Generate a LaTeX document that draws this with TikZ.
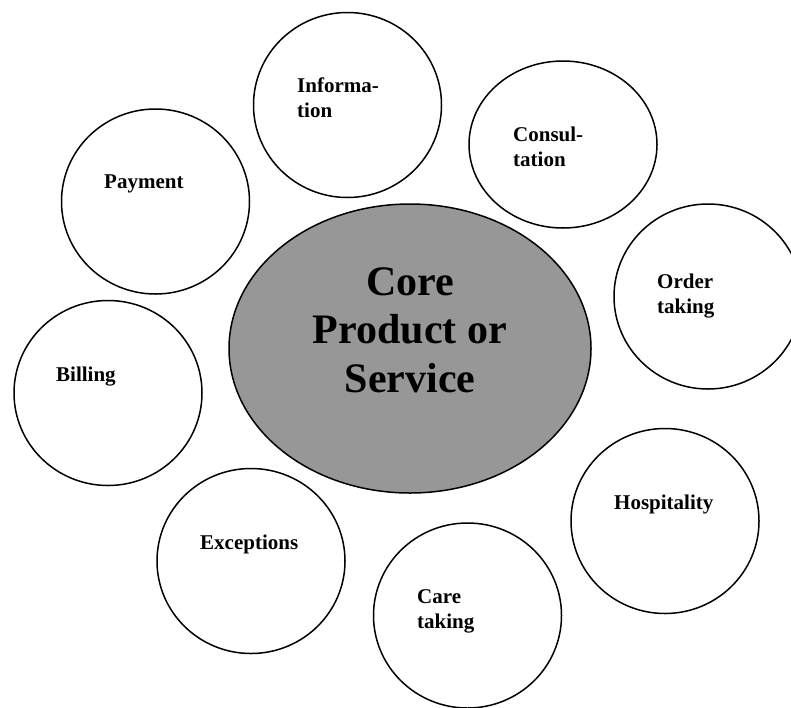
\documentclass[tikz,border=0pt]{standalone}
\usepackage{fontspec}
\setmainfont{Liberation Serif}
\usetikzlibrary{shapes.geometric}
\definecolor{coregray}{RGB}{151,151,151}
\tikzset{
  petal/.style   = {ellipse, draw, line width=1.5pt,
                    minimum width=188pt, minimum height=185pt,
                    inner sep=0pt},
  core/.style    = {petal, fill=coregray,
                    minimum width=362pt, minimum height=289pt},
  lbl/.style     = {anchor=base west, inner sep=0pt, align=left,
                    font=\fontsize{21}{24.5}\selectfont\bfseries},
  corelbl/.style = {anchor=base, inner sep=0pt, align=center,
                    font=\fontsize{42}{48.5}\selectfont\bfseries}
}

\begin{document}
\begin{tikzpicture}[x=1pt, y=-1pt]
  \useasboundingbox (0,0) rectangle (791,707);

  % centre (base anchor sits on the last line)
  \node[core] (core) at (410,348.5) {};
  \node[corelbl] (core-txt) at (410,392) {Core\\Product or\\Service};

  % supplementary services
  \node[petal] (info)    at (347.5,105)   {};
  \node[petal, minimum height=167pt] (consult) at (563,144.5) {};
  \node[petal] (pay)     at (155.5,201.5) {};
  \node[petal] (order)   at (708,296.5)   {};
  \node[petal] (bill)    at (108,393)     {};
  \node[petal] (hosp)    at (665,521)     {};
  \node[petal] (exc)     at (251,561)     {};
  \node[petal] (care)    at (467.5,615.5) {};

  \node[lbl] (info-txt)    at (297,117) {Informa-\\tion};
  \node[lbl] (consult-txt) at (513,166) {Consul-\\tation};
  \node[lbl] (pay-txt)     at (104,188) {Payment};
  \node[lbl] (order-txt)   at (657,313) {Order\\taking};
  \node[lbl] (bill-txt)    at (56,381)  {Billing};
  \node[lbl] (hosp-txt)    at (614,509) {Hospitality};
  \node[lbl] (exc-txt)     at (200,549) {Exceptions};
  \node[lbl] (care-txt)    at (417,628) {Care\\taking};
\end{tikzpicture}
\end{document}
